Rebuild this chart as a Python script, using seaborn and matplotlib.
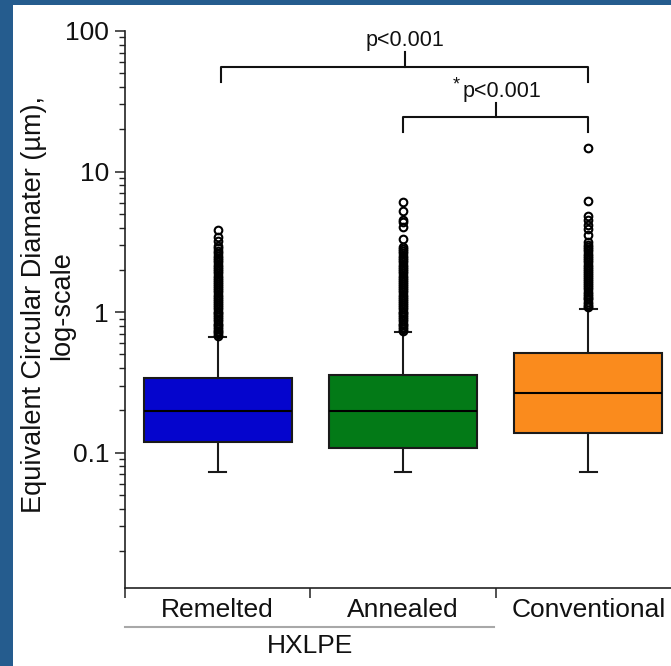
import numpy as np
import pandas as pd
import matplotlib
matplotlib.use("Agg")
import matplotlib.pyplot as plt
import seaborn as sns
from matplotlib.patches import Rectangle
from matplotlib.ticker import FixedLocator, FixedFormatter, LogLocator, NullFormatter

# ---------------- data ----------------
groups = ["Remelted", "Annealed", "Conventional"]
colors = ["#0505CD", "#037A17", "#FA8B1D"]
whisker_low = [0.073, 0.073, 0.073]
q1 = [0.120, 0.108, 0.139]
median = [0.199, 0.199, 0.264]
q3 = [0.338, 0.358, 0.510]
whisker_high = [0.66, 0.725, 1.05]
outliers_remelted = [0.68, 0.70, 0.72, 0.74, 0.76, 0.78, 0.81, 0.83, 0.86, 0.89,
                     0.92, 0.95, 0.98, 1.01, 1.05, 1.08, 1.12, 1.16, 1.20, 1.24,
                     1.28, 1.33, 1.38, 1.43, 1.48, 1.53, 1.58, 1.64, 1.70, 1.76,
                     1.82, 1.89, 1.96, 2.03, 2.10, 2.18, 2.26, 2.34, 2.43, 2.52,
                     2.62, 2.72, 2.85, 2.95, 3.20, 3.45, 3.85]
outliers_annealed = [0.74, 0.76, 0.78, 0.81, 0.83, 0.86, 0.89, 0.92, 0.95, 0.98,
                     1.01, 1.05, 1.08, 1.12, 1.16, 1.20, 1.24, 1.28, 1.33, 1.38,
                     1.43, 1.48, 1.53, 1.58, 1.64, 1.70, 1.76, 1.82, 1.89, 1.96,
                     2.03, 2.10, 2.18, 2.26, 2.34, 2.43, 2.52, 2.62, 2.72, 2.82,
                     2.92, 3.33, 4.03, 4.40, 4.54, 5.28, 6.07]
outliers_conventional = [1.08, 1.11, 1.15, 1.19, 1.23, 1.27, 1.31, 1.35, 1.40, 1.45,
                         1.50, 1.55, 1.60, 1.66, 1.72, 1.78, 1.84, 1.90, 1.97, 2.04,
                         2.11, 2.18, 2.26, 2.34, 2.42, 2.51, 2.60, 2.70, 2.80, 2.90,
                         3.00, 3.15, 3.55, 3.92, 4.14, 4.56, 4.82, 6.22, 14.7]
outliers = [outliers_remelted, outliers_annealed, outliers_conventional]
ytick_values = [0.1, 1, 10, 100]
ytick_labels = ["0.1", "1", "10", "100"]
ylabel_line1 = "Equivalent Circular Diamater (\u00b5m),"
ylabel_line2 = "log-scale"
group_label = "HXLPE"
p_text = "p<0.001"

# build a long-form table whose box statistics reproduce the values above
rows = []
for i, g in enumerate(groups):
    vals = ([whisker_low[i]] + [q1[i]] * 60 + [median[i]] * 60 + [q3[i]] * 60
            + [whisker_high[i]] + outliers[i])
    rows += [(g, v) for v in vals]
df = pd.DataFrame(rows, columns=["group", "value"])

# ---------------- figure ----------------
W, H = 671, 666
fig = plt.figure(figsize=(W / 100, H / 100), dpi=100)
fig.patch.set_facecolor("#255C8E")
fig.patches.append(Rectangle((13 / W, 0), 1, 1 - 5 / H, transform=fig.transFigure,
                             facecolor="white", edgecolor="none", zorder=-5))
plt.rcParams["font.family"] = ["Liberation Sans", "DejaVu Sans"]

ax_left, ax_right, ax_top, ax_bot = 125, 681, 31, 588
ax = fig.add_axes([ax_left / W, 1 - ax_bot / H, (ax_right - ax_left) / W, (ax_bot - ax_top) / H])
ax.set_facecolor("white")

edge = "#1a1a1a"
sns.boxplot(data=df, x="group", y="value", hue="group", palette=colors, order=groups,
            hue_order=groups, legend=False, dodge=False, width=0.8, saturation=1,
            whis=1.5, linewidth=1.5, linecolor=edge, ax=ax,
            flierprops=dict(marker="o", markersize=5.5, markerfacecolor="none",
                            markeredgecolor="black", markeredgewidth=1.5),
            medianprops=dict(color="black", linewidth=1.5),
            capwidths=0.09)

ax.set_yscale("log")
ax.set_ylim(0.0109, 100)
ax.set_xlim(-0.5, 2.5)

for s in ["top", "right"]:
    ax.spines[s].set_visible(False)
for s in ["left", "bottom"]:
    ax.spines[s].set_color("#222222")
    ax.spines[s].set_linewidth(1.2)

ax.yaxis.set_major_locator(FixedLocator(ytick_values))
ax.yaxis.set_major_formatter(FixedFormatter(ytick_labels))
ax.yaxis.set_minor_locator(LogLocator(base=10, subs=np.arange(2, 10)))
ax.yaxis.set_minor_formatter(NullFormatter())
ax.tick_params(axis="y", which="major", length=7.5, width=1.1, labelsize=19,
               pad=4, colors="#222222", labelcolor="#111111")
ax.tick_params(axis="y", which="minor", length=4.3, width=1.0, colors="#222222")

ax.set_xticks(range(len(groups)))
ax.set_xticklabels(groups)
ax.set_xticks([-0.5, 0.5, 1.5, 2.5], minor=True)
ax.tick_params(axis="x", which="major", length=0, labelsize=19, pad=7,
               labelcolor="#111111")
ax.tick_params(axis="x", which="minor", length=7.5, width=1.1, colors="#222222")
ax.set_xlabel("")
ax.set_ylabel("")

# y label (two lines)
fig.text(34 / W, 1 - 304 / H, ylabel_line1, rotation=90, ha="center", va="center",
         fontsize=19.5, color="#111111")
fig.text(62 / W, 1 - 306 / H, ylabel_line2, rotation=90, ha="center", va="center",
         fontsize=19.5, color="#111111")

# HXLPE group line and label
xt = ax.get_xaxis_transform()
ax.plot([-0.5, 1.49], [-0.07, -0.07], transform=xt, color="#a8a8a8", lw=1.5,
        clip_on=False)
ax.text(0.5, -0.104, group_label, transform=xt, ha="center", va="center",
        fontsize=19, color="#111111")

# significance brackets
bk = dict(color="#111111", lw=1.5, clip_on=False)
ax.plot([0.02, 0.02, 2.0, 2.0], [43.6, 55.7, 55.7, 43.6], **bk)
ax.plot([1.009, 1.009], [55.7, 71.3], **bk)
ax.text(1.009, 78.0, p_text, ha="center", va="baseline", fontsize=15.5, color="#111111")

ax.plot([1.0, 1.0, 2.0, 2.0], [19.2, 24.6, 24.6, 19.2], **bk)
ax.plot([1.5, 1.5], [24.6, 30.8], **bk)
ax.text(1.535, 34.0, p_text, ha="center", va="baseline", fontsize=15.5, color="#111111")
ax.text(1.29, 47.5, "*", ha="center", va="top", fontsize=13, color="#111111")

fig.savefig("out.png", dpi=100, facecolor=fig.get_facecolor())
